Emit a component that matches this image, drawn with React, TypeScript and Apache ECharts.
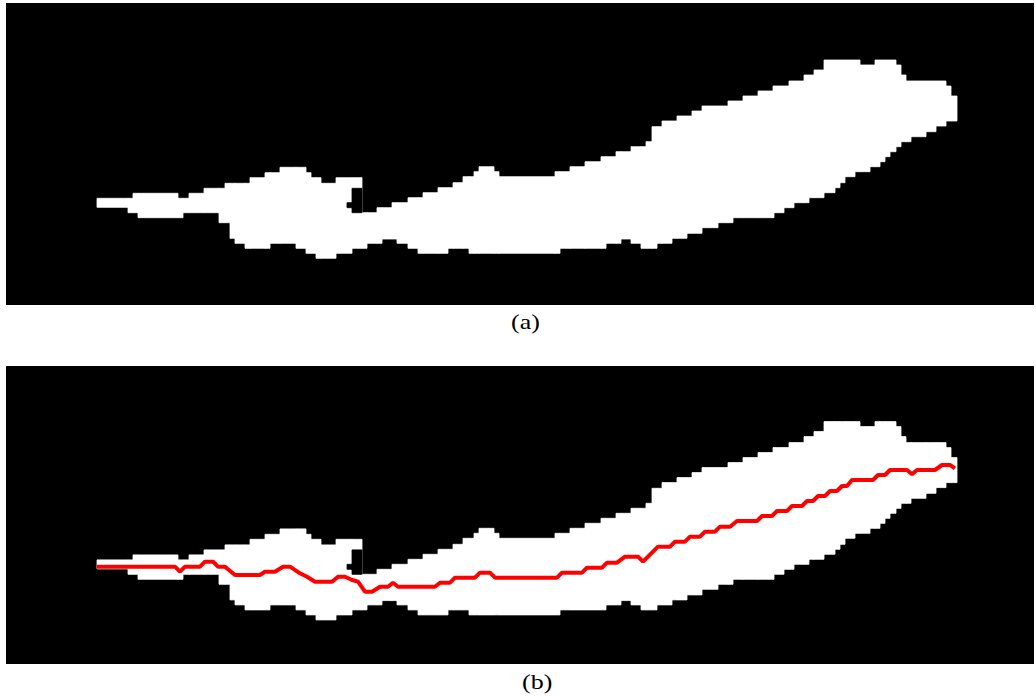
import React, { useEffect, useRef } from "react";
import * as echarts from "echarts";

// Upper outline of the white region: [x where the step starts, y of top edge]
const TOP_EDGE: [number, number][] = [
  [97, 198.3], [133, 193.3], [178, 198.3], [189, 193.3], [204, 188.3], [225, 183.3],
  [250, 177.7], [265, 172.7], [280, 167.3], [306, 172.7], [311, 177.7], [321, 183.3],
  [336, 177.7], [362, 212.7], [377, 207.7], [392, 202.7], [408, 197.7], [423, 192.7],
  [438, 187.7], [453, 182.7], [463, 176.7], [474, 171.7], [479, 166.7], [494, 171.7],
  [499, 176.7], [555, 171.7], [570, 166.7], [585, 161.7], [601, 156.7], [616, 151.7],
  [631, 146.7], [646, 141.7], [652, 126.7], [662, 121], [677, 116], [692, 111],
  [702, 106], [728, 101], [743, 96], [758, 91], [773, 86], [789, 81], [804, 75],
  [814, 70], [824, 60], [860, 65], [875, 60], [896, 65], [901, 75], [906, 81],
  [946, 86], [951, 96],
];

// Lower outline of the white region: [x where the step starts, y of bottom edge]
const BOTTOM_EDGE: [number, number][] = [
  [97, 207.3], [128, 212.7], [138, 217.7], [183, 212.7], [219, 222.7], [230, 238.3],
  [235, 243.3], [245, 248.3], [270, 243.3], [296, 248.3], [306, 253.3], [316, 258.3],
  [336, 253.3], [352, 248.3], [367, 243.3], [382, 239], [397, 243.3], [408, 248.3],
  [418, 253.3], [448, 248.3], [469, 253.3], [560, 248.3], [606, 243.3], [621, 239],
  [631, 243.3], [641, 248.3], [657, 243.3], [672, 238.3], [687, 233.3], [702, 227.7],
  [718, 222.7], [733, 217.7], [774, 212.7], [784, 207.7], [794, 202.7], [809, 197.7],
  [824, 192.7], [835, 187.7], [840, 182.7], [845, 176.7], [855, 171.7], [870, 166.7],
  [880, 161.7], [885, 156.7], [890, 151.7], [896, 146.7], [901, 141.7], [911, 136.7],
  [926, 131.7], [936, 126], [946, 121],
];

const SHAPE_END = 957;

// Black notch cut into the white region: [x0, x1, yTop, yBottom]
const NOTCH: [number, number, number, number][] = [
  [347, 352, 202.7, 207.7],
  [352, 362, 188.3, 212.7],
];

// Red centre line of panel (b): [x, y]
const CENTERLINE: [number, number][] = [
  [97, 205.1], [175, 205.1], [180, 210.1], [185, 205.1], [200, 205.1], [205, 200.1],
  [213, 200.1], [218, 205.1], [225, 205.1], [235, 213.4], [260, 213.4], [265, 210.1],
  [275, 210.1], [283, 205.1], [290, 205.1], [300, 211.7], [307, 215.1], [315, 220.1],
  [332, 220.1], [338, 215.1], [345, 215.1], [352, 218.4], [358, 220.1], [365, 230.1],
  [372, 230.1], [380, 225.1], [388, 225.1], [393, 221.1], [398, 225.1], [435, 225.1],
  [440, 221.1], [450, 221.1], [455, 216.1], [475, 216.1], [480, 211.1], [490, 211.1],
  [495, 216.1], [557, 216.1], [562, 211.1], [582, 211.1], [587, 206.1], [602, 206.1],
  [607, 201.1], [617, 201.1], [625, 195.1], [638, 195.1], [643, 200.1], [653, 190.1],
  [658, 185.1], [670, 185.1], [675, 180.1], [685, 180.1], [690, 175.1], [700, 175.1],
  [705, 170.1], [715, 170.1], [720, 165.1], [730, 165.1], [737, 159.4], [757, 159.4],
  [762, 154.4], [772, 154.4], [777, 149.4], [787, 149.4], [792, 144.4], [802, 144.4],
  [807, 139.4], [813, 139.4], [818, 134.4], [825, 134.4], [830, 129.4], [837, 129.4],
  [842, 124.4], [847, 124.4], [852, 118.4], [873, 118.4], [878, 113.4], [885, 113.4],
  [890, 108.4], [907, 108.4], [912, 112.7], [917, 108.4], [935, 108.4], [942, 103.4],
  [950, 103.4], [955, 106.7],
];

const PANEL_LABELS = ["(a)", "(b)"];

function stepAt(edge: [number, number][], x: number): number {
  let v = edge[0][1];
  for (const [sx, sy] of edge) {
    if (sx <= x) v = sy;
    else break;
  }
  return v;
}

function buildRuns(top: [number, number][], bottom: [number, number][], end: number) {
  const xs = Array.from(new Set([...top.map((p) => p[0]), ...bottom.map((p) => p[0]), end])).sort(
    (a, b) => a - b
  );
  const runs: [number, number, number, number][] = [];
  for (let i = 0; i < xs.length - 1; i++) {
    const a = xs[i];
    const b = xs[i + 1];
    runs.push([a, b, stepAt(top, a), stepAt(bottom, a)]);
  }
  return runs;
}

export default function App() {
  const ref = useRef<HTMLDivElement>(null);

  useEffect(() => {
    if (!ref.current) return;
    const chart = echarts.init(ref.current, null, { renderer: "svg" });
    const runs = buildRuns(TOP_EDGE, BOTTOM_EDGE, SHAPE_END);

    const rectRenderer = (color: string) => (_params: any, api: any) => {
      const p0 = api.coord([api.value(0), api.value(2)]);
      const p1 = api.coord([api.value(1), api.value(3)]);
      return {
        type: "rect",
        shape: { x: p0[0], y: p0[1], width: p1[0] - p0[0], height: p1[1] - p0[1] },
        style: { fill: color, stroke: color, lineWidth: 0.8 },
      };
    };

    const panelSeries = (i: number) => [
      {
        type: "custom",
        xAxisIndex: i,
        yAxisIndex: i,
        renderItem: rectRenderer("#ffffff"),
        encode: { x: [0, 1], y: [2, 3] },
        data: runs,
        z: 2,
        silent: true,
      },
      {
        type: "custom",
        xAxisIndex: i,
        yAxisIndex: i,
        renderItem: rectRenderer("#000000"),
        encode: { x: [0, 1], y: [2, 3] },
        data: NOTCH,
        z: 3,
        silent: true,
      },
    ];

    const axisHidden = { show: false, splitLine: { show: false } };
    const labelFont = '20px "Liberation Serif", "Times New Roman", serif';

    chart.setOption({
      animation: false,
      backgroundColor: "#ffffff",
      grid: [
        { left: 6, top: 3, width: 1028, height: 302, show: true, backgroundColor: "#000000", borderWidth: 0 },
        { left: 6, top: 366, width: 1028, height: 298, show: true, backgroundColor: "#000000", borderWidth: 0 },
      ],
      xAxis: [
        { type: "value", gridIndex: 0, min: 6, max: 1034, ...axisHidden },
        { type: "value", gridIndex: 1, min: 6, max: 1034, ...axisHidden },
      ],
      yAxis: [
        { type: "value", gridIndex: 0, min: 3, max: 305, inverse: true, ...axisHidden },
        { type: "value", gridIndex: 1, min: 4.4, max: 302.4, inverse: true, ...axisHidden },
      ],
      graphic: [
        {
          type: "text",
          x: 511,
          y: 312,
          scaleX: 1.3,
          style: { text: PANEL_LABELS[0], font: labelFont, fill: "#000", verticalAlign: "top" },
        },
        {
          type: "text",
          x: 522,
          y: 672,
          scaleX: 1.3,
          style: { text: PANEL_LABELS[1], font: labelFont, fill: "#000", verticalAlign: "top" },
        },
      ],
      series: [
        ...panelSeries(0),
        ...panelSeries(1),
        {
          type: "line",
          xAxisIndex: 1,
          yAxisIndex: 1,
          data: CENTERLINE,
          symbol: "none",
          lineStyle: { color: "#ff0000", width: 4 },
          z: 5,
          silent: true,
        },
      ],
    });

    return () => chart.dispose();
  }, []);

  return (
    <div
      ref={ref}
      style={{ position: "fixed", left: 0, top: 0, width: 1036, height: 697, background: "#fff" }}
    />
  );
}
